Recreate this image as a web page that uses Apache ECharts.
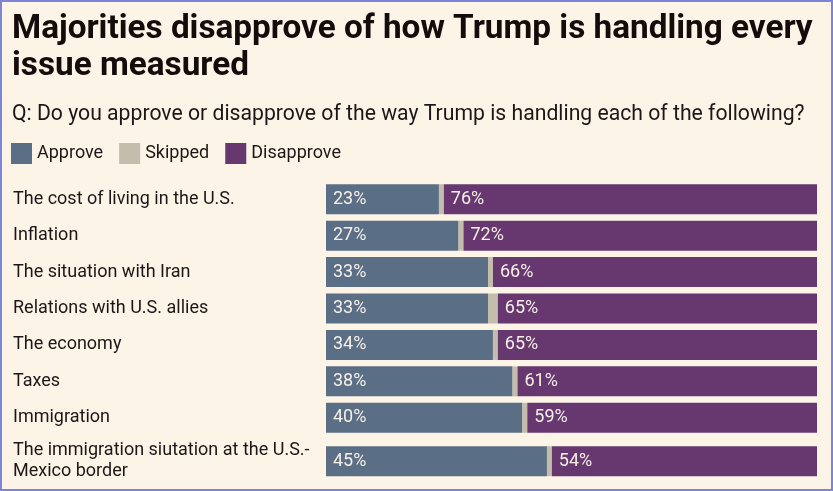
<!DOCTYPE html>
<html>
<head>
<meta http-equiv="Content-Type" content="text/html; charset=utf8">
<title>Trump approval by issue</title>
<script src="https://cdn.jsdelivr.net/npm/echarts@6/dist/echarts.min.js"></script>
<style type="text/css">
html,body{margin:0;padding:0;background:#fdf4e8;}
#main{width:833px;height:491px;}
#frame{position:absolute;left:0;top:0;width:833px;height:491px;box-sizing:border-box;border:2px solid #7b84d6;pointer-events:none;}
</style>
</head>
<body>
<div id="main"></div>
<div id="frame"></div>
<script>
// issues, top to bottom
var issues = [
	'The cost of living in the U.S.',
	'Inflation',
	'The situation with Iran',
	'Relations with U.S. allies',
	'The economy',
	'Taxes',
	'Immigration',
	'The immigration siutation at the U.S.-\nMexico border'
];
var approve    = [23, 27, 33, 33, 34, 38, 40, 45];
var skipped    = [ 1,  1,  1,  2,  1,  1,  1,  1];
var disapprove = [76, 72, 66, 65, 65, 61, 59, 54];

var colors = {approve:'#5a6e85', skipped:'#c5bdab', disapprove:'#66386f'};
var font = 'Roboto, "Noto Sans", sans-serif';

var chart = echarts.init(document.getElementById('main'));

// the last row has a two-line label, so it sits in its own grid a bit lower
var groups = [[0, 7], [7, 8]];
var grids = [
	{left:326, right:16, top:181, height:255},
	{left:326, right:16, top:443, height:36.4}
];

var xAxes = [], yAxes = [], series = [];
groups.forEach(function(g, i){
	xAxes.push({type:'value', gridIndex:i, min:0, max:100, show:false});
	yAxes.push({
		type:'category', gridIndex:i, inverse:true,
		data:issues.slice(g[0], g[1]),
		axisLine:{show:false}, axisTick:{show:false},
		axisLabel:{align:'left', margin:313, color:'#1c1717', fontSize:18, fontFamily:font, lineHeight:21}
	});
	var lbl = {show:true, position:'insideLeft', distance:7, color:'#f6f0e8', fontSize:18, fontFamily:font, formatter:'{c}%'};
	series.push({name:'Approve', type:'bar', stack:'s'+i, xAxisIndex:i, yAxisIndex:i, barWidth:30,
		itemStyle:{color:colors.approve}, label:lbl, data:approve.slice(g[0], g[1])});
	series.push({name:'Skipped', type:'bar', stack:'s'+i, xAxisIndex:i, yAxisIndex:i, barWidth:30,
		itemStyle:{color:colors.skipped}, data:skipped.slice(g[0], g[1])});
	series.push({name:'Disapprove', type:'bar', stack:'s'+i, xAxisIndex:i, yAxisIndex:i, barWidth:30,
		itemStyle:{color:colors.disapprove}, label:lbl, data:disapprove.slice(g[0], g[1])});
});

chart.setOption({
	backgroundColor:'#fdf4e8',
	animation:false,
	title:[{
		text:'Majorities disapprove of how Trump is handling every\nissue measured',
		left:7, top:6,
		textStyle:{color:'#140b0b', fontSize:33.3, fontWeight:'bold', fontFamily:font, lineHeight:37}
	},{
		text:'Q: Do you approve or disapprove of the way Trump is handling each of the following?',
		left:7, top:99,
		textStyle:{color:'#1c1717', fontSize:21.2, fontWeight:'normal', fontFamily:font}
	}],
	legend:{
		left:11, top:143, padding:0,
		icon:'rect', itemWidth:21, itemHeight:21, itemGap:16,
		textStyle:{color:'#1c1717', fontSize:18, fontFamily:font},
		data:['Approve', 'Skipped', 'Disapprove'],
		selectedMode:false
	},
	grid:grids,
	xAxis:xAxes,
	yAxis:yAxes,
	series:series
});
</script>
</body>
</html>
